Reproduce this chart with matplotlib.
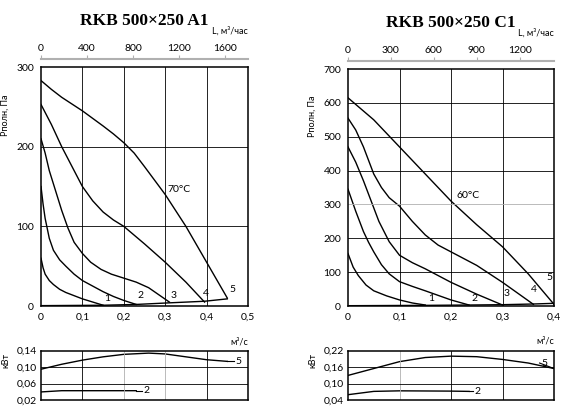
import matplotlib
matplotlib.use("Agg")
import matplotlib.pyplot as plt

plt.rcParams['font.family'] = ['Lato', 'DejaVu Sans']
plt.rcParams['font.size'] = 7.5

# ---- RKB 500x250 A1 ----
a_curves = {
    '1': ([0, 0.005, 0.01, 0.02, 0.03, 0.045, 0.06, 0.08, 0.1, 0.125, 0.15],
          [60, 48, 40, 32, 27, 21, 17, 13, 9, 5, 1]),
    '2': ([0, 0.005, 0.01, 0.02, 0.03, 0.045, 0.06, 0.08, 0.1, 0.125, 0.15, 0.175, 0.2, 0.23],
          [150, 128, 110, 85, 70, 58, 50, 40, 32, 25, 18, 12, 7, 2]),
    '3': ([0, 0.01, 0.02, 0.035, 0.05, 0.065, 0.08, 0.1, 0.12, 0.145, 0.17, 0.2, 0.23, 0.26, 0.285, 0.31],
          [210, 192, 170, 145, 120, 98, 80, 66, 55, 46, 40, 35, 30, 23, 14, 5]),
    '4': ([0, 0.025, 0.05, 0.075, 0.1, 0.125, 0.15, 0.175, 0.2, 0.225, 0.25, 0.3, 0.35, 0.395],
          [253, 228, 200, 175, 150, 132, 118, 108, 100, 89, 78, 55, 30, 5]),
    '5': ([0, 0.025, 0.05, 0.1, 0.15, 0.175, 0.2, 0.225, 0.25, 0.3, 0.35, 0.4, 0.45],
          [283, 272, 262, 245, 226, 216, 205, 192, 175, 140, 100, 55, 10]),
}
a_sys_x = [0, 0.15, 0.23, 0.31, 0.395, 0.45]
a_sys_y = [0.5, 1, 2, 4, 6, 9]
a_lbl = {'1': (0.152, 4), '2': (0.232, 8), '3': (0.312, 8), '4': (0.392, 10), '5': (0.455, 15)}
a_p5_x = [0, 0.05, 0.1, 0.15, 0.2, 0.26, 0.3, 0.35, 0.4, 0.45]
a_p5_y = [0.095, 0.107, 0.117, 0.125, 0.131, 0.134, 0.132, 0.125, 0.118, 0.114]
a_p2_x = [0, 0.05, 0.23]
a_p2_y = [0.04, 0.043, 0.043]

# ---- RKB 500x250 C1 ----
c_curves = {
    '1': ([0, 0.01, 0.02, 0.035, 0.05, 0.075, 0.1, 0.125, 0.15],
          [155, 115, 90, 62, 45, 30, 18, 9, 3]),
    '2': ([0, 0.015, 0.03, 0.04, 0.05, 0.065, 0.08, 0.1, 0.125, 0.15, 0.2, 0.235],
          [345, 280, 220, 188, 160, 122, 95, 72, 58, 45, 18, 3]),
    '3': ([0, 0.015, 0.03, 0.045, 0.06, 0.08, 0.1, 0.125, 0.15, 0.2, 0.25, 0.3],
          [470, 425, 370, 310, 250, 190, 150, 128, 110, 70, 35, 3]),
    '4': ([0, 0.015, 0.03, 0.05, 0.065, 0.08, 0.1, 0.125, 0.15, 0.175, 0.2, 0.25, 0.3, 0.36],
          [555, 520, 470, 390, 350, 320, 295, 250, 210, 180, 160, 120, 70, 5]),
    '5': ([0, 0.05, 0.1, 0.15, 0.2, 0.25, 0.3, 0.35, 0.4],
          [615, 550, 470, 390, 310, 240, 175, 95, 5]),
}
c_sys_x = [0, 0.15, 0.235, 0.3, 0.36, 0.4]
c_sys_y = [1, 2, 3, 4, 6, 8]
c_lbl = {'1': (0.155, 10), '2': (0.24, 10), '3': (0.303, 25), '4': (0.355, 35), '5': (0.385, 70)}
c_p5_x = [0, 0.05, 0.1, 0.15, 0.2, 0.25, 0.3, 0.35, 0.4]
c_p5_y = [0.13, 0.155, 0.18, 0.195, 0.2, 0.198, 0.188, 0.175, 0.155]
c_p2_x = [0, 0.05, 0.1, 0.2, 0.235]
c_p2_y = [0.06, 0.072, 0.074, 0.073, 0.072]


def panel(fig, left, width, title, curves, sys_x, sys_y, lbl, xmax, ymax, ystep,
          xticks, xlabels, top_ticks, temp, temp_xy, grey_h, p5, p2, pylim, pticks, plabels,
          grey_v, p5_lbl, p2_lbl, main_h):
    ax = fig.add_axes([left, 0.259, width, main_h])
    for k, (x, y) in curves.items():
        ax.plot(x, y, color='black', lw=1)
        ax.text(lbl[k][0], lbl[k][1], k, ha='left', va='bottom', fontsize=7.5)
    ax.plot(sys_x, sys_y, color='black', lw=1)
    ax.set_xlim(0, xmax)
    ax.set_ylim(0, ymax)
    ax.set_xticks(xticks)
    ax.set_xticklabels(xlabels)
    ax.set_yticks(range(0, ymax + 1, ystep))
    for xv in xticks[1:-1]:
        ax.axvline(xv, color='black', lw=0.6)
    for yv in range(ystep, ymax, ystep):
        ax.axhline(yv, color='#b0b0b0' if yv == grey_h else 'black', lw=0.6)
    ax.tick_params(length=0, pad=5)
    for s in ax.spines.values():
        s.set_linewidth(1.1)
    ax.text(temp_xy[0], temp_xy[1], temp, fontsize=7.5)
    ax.set_ylabel('Pполн, Па', fontsize=6.5, labelpad=2)
    ax.yaxis.set_label_coords(-0.15, 0.8)
    ax.set_title(title, family='Liberation Serif', fontweight='bold', fontsize=12.5, pad=30)

    top = ax.secondary_xaxis('top', functions=(lambda v: v * 3600, lambda v: v / 3600))
    top.set_xticks(top_ticks)
    top.spines['top'].set_position(('outward', 6))
    top.spines['top'].set_color('#b0b0b0')
    top.spines['top'].set_linewidth(1.5)
    top.tick_params(length=3, color='#b0b0b0', pad=1)
    ax.text(1.0, 1.14, 'L, м³/час', transform=ax.transAxes, ha='right', fontsize=6.5)
    ax.text(1.0, -0.16, 'м³/с', transform=ax.transAxes, ha='right', fontsize=6.5)

    pa = fig.add_axes([left, 0.031, width, 0.12])
    pa.plot(p5[0], p5[1], color='black', lw=1)
    pa.plot(p2[0], p2[1], color='black', lw=1)
    pa.text(p5_lbl[0], p5_lbl[1], '5', va='center', fontsize=7.5)
    pa.text(p2_lbl[0], p2_lbl[1], '2', va='center', fontsize=7.5)
    pa.plot([p5[0][-1], p5_lbl[0] - 0.003], [p5[1][-1], p5_lbl[1]], color='black', lw=0.8)
    pa.plot([p2[0][-1], p2_lbl[0] - 0.003], [p2[1][-1], p2_lbl[1]], color='black', lw=0.8)
    pa.set_xlim(0, xmax)
    pa.set_ylim(*pylim)
    pa.set_yticks(pticks)
    pa.set_yticklabels(plabels)
    pa.set_xticks([])
    for xv in xticks[1:-1]:
        pa.axvline(xv, color='#b0b0b0' if xv in grey_v else 'black', lw=0.6)
    for yv in pticks[1:-1]:
        pa.axhline(yv, color='black', lw=0.6)
    pa.tick_params(length=0, pad=3)
    for s in pa.spines.values():
        s.set_linewidth(1.1)
    pa.set_ylabel('кВт', fontsize=6.5, labelpad=2)
    pa.yaxis.set_label_coords(-0.15, 0.8)


fig = plt.figure(figsize=(5.64, 4.13), dpi=100)
panel(fig, 41 / 564, 207 / 564, 'RKB 500×250 A1', a_curves, a_sys_x, a_sys_y, a_lbl,
      0.5, 300, 100, [0, 0.1, 0.2, 0.3, 0.4, 0.5], ['0', '0,1', '0,2', '0,3', '0,4', '0,5'],
      [0, 400, 800, 1200, 1600], '70°C', (0.305, 143), None,
      (a_p5_x, a_p5_y), (a_p2_x, a_p2_y), (0.02, 0.14), [0.02, 0.06, 0.10, 0.14],
      ['0,02', '0,06', '0,10', '0,14'], [0.2, 0.3], (0.47, 0.114), (0.248, 0.043), 239 / 413)
panel(fig, 348 / 564, 206 / 564, 'RKB 500×250 C1', c_curves, c_sys_x, c_sys_y, c_lbl,
      0.4, 700, 100, [0, 0.1, 0.2, 0.3, 0.4], ['0', '0,1', '0,2', '0,3', '0,4'],
      [0, 300, 600, 900, 1200], '60°C', (0.21, 320), 300,
      (c_p5_x, c_p5_y), (c_p2_x, c_p2_y), (0.04, 0.22), [0.04, 0.10, 0.16, 0.22],
      ['0,04', '0,10', '0,16', '0,22'], [0.1], (0.375, 0.175), (0.245, 0.072), 237 / 413)

fig.savefig('out.png', dpi=100)
